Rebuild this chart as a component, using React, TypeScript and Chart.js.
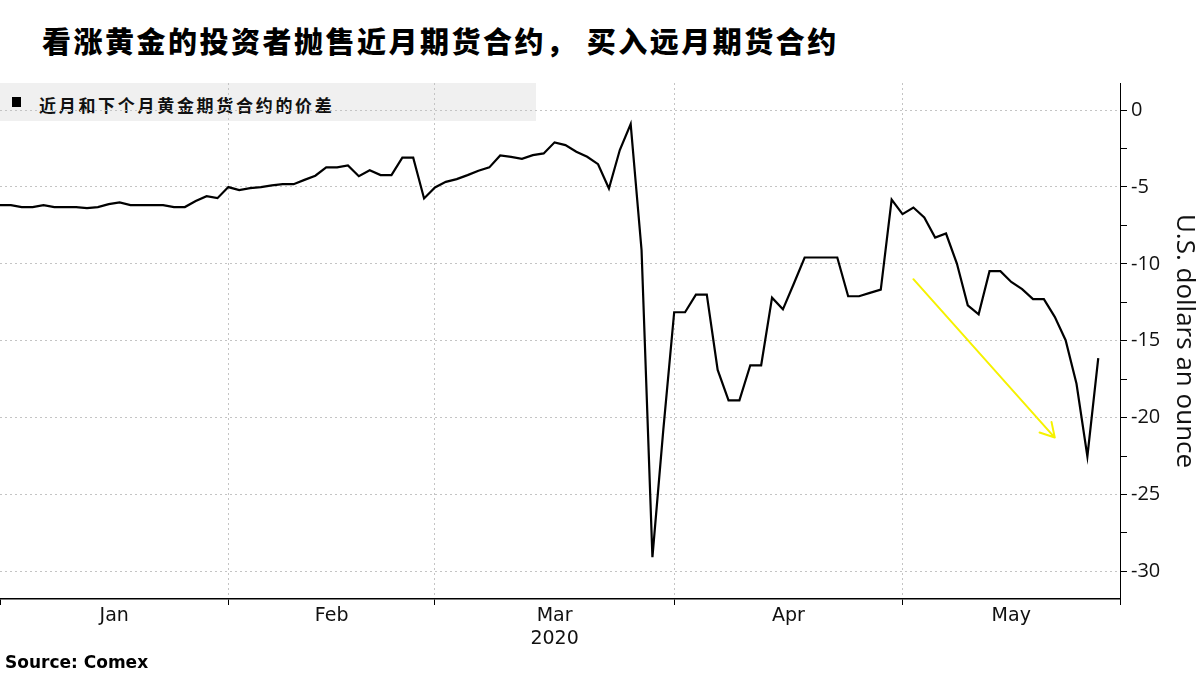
import React, { useEffect, useRef } from "react";
import { Chart, registerables } from "chart.js";

Chart.register(...registerables);

// ---------- text ----------
const TITLE = "看涨黄金的投资者抛售近月期货合约， 买入远月期货合约";
const SERIES_LABEL = "近月和下个月黄金期货合约的价差";
const SOURCE = "Source: Comex";
const Y_TITLE = "U.S. dollars an ounce";

// ---------- x axis (trading-day index) ----------
const monthNames = ["Jan", "Feb", "Mar", "Apr", "May"];
const yearLabel = "2020";
const yearUnderMonth = "Mar";
// trading-day index where each month starts
const monthStartIdx = [0, 21, 40, 62, 83];
const axisEndIdx = 103;

// ---------- y axis ----------
const yMajorTicks = [0, -5, -10, -15, -20, -25, -30];
const yMinorTicks = [-2.5, -7.5, -12.5, -17.5, -22.5, -27.5];
const yMin = -31.8;
const yMax = 1.76;

// ---------- series: spread, one value per trading day (Jan 2 .. late May 2020) ----------
const spread = [
  -6.18, -6.18, -6.31, -6.31, -6.18, -6.31, -6.31, -6.31, -6.38, -6.31,
  -6.12, -6.01, -6.18, -6.18, -6.18, -6.18, -6.31, -6.31, -5.92, -5.6,
  -5.73, -5.01, -5.21, -5.08, -5.01, -4.9, -4.82, -4.82, -4.54, -4.27,
  -3.73, -3.73, -3.6, -4.3, -3.91, -4.23, -4.23, -3.1, -3.1, -5.75,
  -5.03, -4.67, -4.49, -4.23, -3.95, -3.73, -2.95, -3.04, -3.17, -2.93,
  -2.82, -2.1, -2.28, -2.71, -3.04, -3.52, -5.1, -2.6, -0.91, -9.11,
  -29.08, -20.8, -13.15, -13.15, -12.0, -12.0, -16.9, -18.88, -18.88, -16.6,
  -16.6, -12.2, -12.96, -11.3, -9.59, -9.59, -9.59, -9.59, -12.11, -12.11,
  -11.89, -11.68, -5.82, -6.77, -6.34, -6.99, -8.29, -8.03, -9.98, -12.7,
  -13.28, -10.48, -10.48, -11.18, -11.65, -12.3, -12.3, -13.45, -14.97, -17.8,
  -22.53, -16.13,
];

// ---------- annotation arrow (data coordinates: [index, value]) ----------
const arrowFrom = [84, -11.0];
const arrowTo = [97, -21.3];

const monthMids = monthStartIdx.map((s, i) =>
  (s + (i + 1 < monthStartIdx.length ? monthStartIdx[i + 1] : axisEndIdx)) / 2
);
const xTickValues = [...monthStartIdx, axisEndIdx, ...monthMids].sort((a, b) => a - b);

const arrowPlugin = {
  id: "arrowAnnotation",
  afterDatasetsDraw(chart: any) {
    const { ctx, scales } = chart;
    const x1 = scales.x.getPixelForValue(arrowFrom[0]);
    const y1 = scales.y.getPixelForValue(arrowFrom[1]);
    const x2 = scales.x.getPixelForValue(arrowTo[0]);
    const y2 = scales.y.getPixelForValue(arrowTo[1]);
    const ang = Math.atan2(y2 - y1, x2 - x1);
    const L = 16;
    ctx.save();
    ctx.strokeStyle = "#f6f200";
    ctx.lineWidth = 2;
    ctx.lineCap = "round";
    ctx.beginPath();
    ctx.moveTo(x1, y1);
    ctx.lineTo(x2, y2);
    for (const d of [Math.PI / 6, -Math.PI / 6]) {
      ctx.moveTo(x2, y2);
      ctx.lineTo(x2 - L * Math.cos(ang - d), y2 - L * Math.sin(ang - d));
    }
    ctx.stroke();
    ctx.restore();
  },
};

export default function App() {
  const canvasRef = useRef<HTMLCanvasElement | null>(null);

  useEffect(() => {
    if (!canvasRef.current) return;
    const chart = new Chart(canvasRef.current, {
      type: "line",
      data: {
        datasets: [
          {
            label: SERIES_LABEL,
            data: spread.map((v, i) => ({ x: i, y: v })),
            borderColor: "#000",
            borderWidth: 2.2,
            pointRadius: 0,
            tension: 0,
            fill: false,
          },
        ],
      },
      options: {
        responsive: false,
        animation: false,
        layout: { padding: { top: 83, left: 0, right: 0, bottom: 0 } },
        plugins: { legend: { display: false }, tooltip: { enabled: false } },
        scales: {
          x: {
            type: "linear",
            min: 0,
            max: axisEndIdx,
            afterBuildTicks: (s: any) => {
              s.ticks = xTickValues.map((v) => ({ value: v }));
            },
            afterFit: (s: any) => {
              s.height = 76;
            },
            ticks: {
              autoSkip: false,
              maxRotation: 0,
              minRotation: 0,
              padding: 0,
              color: "#111",
              font: { family: "DejaVu Sans", size: 19 },
              callback: (value: any) => {
                const i = monthMids.indexOf(Number(value));
                if (i < 0) return "";
                return monthNames[i] === yearUnderMonth ? [monthNames[i], yearLabel] : monthNames[i];
              },
            },
            grid: {
              color: (c: any) => {
                const v = c.tick ? c.tick.value : null;
                return v !== null && monthStartIdx.includes(v) && v !== 0 ? "#c4c4c4" : "rgba(0,0,0,0)";
              },
              tickColor: (c: any) => {
                const v = c.tick ? c.tick.value : null;
                return v !== null && (monthStartIdx.includes(v) || v === axisEndIdx) ? "#000" : "rgba(0,0,0,0)";
              },
              tickLength: 6,
              lineWidth: 1,
            },
            border: { display: true, color: "#000", width: 1.5, dash: [2, 3] },
          },
          y: {
            type: "linear",
            position: "right",
            min: yMin,
            max: yMax,
            afterBuildTicks: (s: any) => {
              s.ticks = [...yMajorTicks, ...yMinorTicks].sort((a, b) => a - b).map((v) => ({ value: v }));
            },
            afterFit: (s: any) => {
              s.width = 80;
            },
            ticks: {
              padding: 4,
              color: "#111",
              font: { family: "Open Sans", size: 20 },
              callback: (value: any) => (yMajorTicks.includes(Number(value)) ? String(value) : ""),
            },
            grid: {
              color: (c: any) => {
                const v = c.tick ? c.tick.value : null;
                return v !== null && yMajorTicks.includes(v) ? "#c4c4c4" : "rgba(0,0,0,0)";
              },
              tickColor: "#000",
              tickLength: 7,
              lineWidth: 1,
            },
            border: { display: true, color: "#000", width: 1, dash: [2, 3] },
            title: {
              display: true,
              text: Y_TITLE,
              color: "#111",
              font: { family: "Open Sans", size: 26 },
              padding: 0,
            },
          },
        },
      },
      plugins: [arrowPlugin],
    });
    return () => chart.destroy();
  }, []);

  return (
    <div
      style={{
        position: "absolute",
        left: 0,
        top: 0,
        width: 1200,
        height: 675,
        background: "#fff",
        overflow: "hidden",
      }}
    >
      <div
        style={{
          position: "absolute",
          left: 42,
          top: 24,
          fontFamily: '"Noto Sans CJK SC", sans-serif',
          fontWeight: 900,
          fontSize: 29,
          letterSpacing: "2.5px",
          lineHeight: "32px",
          whiteSpace: "nowrap",
          color: "#000",
        }}
      >
        {TITLE}
      </div>
      <div
        style={{
          position: "absolute",
          left: 0,
          top: 83,
          width: 536,
          height: 38,
          background: "#f0f0f0",
        }}
      >
        <div
          style={{
            position: "absolute",
            left: 12,
            top: 14,
            width: 9,
            height: 10,
            background: "#000",
          }}
        />
        <div
          style={{
            position: "absolute",
            left: 39,
            top: 12,
            fontFamily: '"Noto Sans CJK SC", sans-serif',
            fontWeight: 700,
            fontSize: 17,
            letterSpacing: "2.7px",
            lineHeight: "20px",
            whiteSpace: "nowrap",
            color: "#111",
          }}
        >
          {SERIES_LABEL}
        </div>
      </div>
      <canvas
        ref={canvasRef}
        width={1200}
        height={675}
        style={{ position: "absolute", left: 0, top: 0, width: 1200, height: 675 }}
      />
      <div
        style={{
          position: "absolute",
          left: 5,
          top: 652,
          fontFamily: '"DejaVu Sans", sans-serif',
          fontWeight: 700,
          fontSize: 17,
          lineHeight: "20px",
          whiteSpace: "nowrap",
          color: "#000",
        }}
      >
        {SOURCE}
      </div>
    </div>
  );
}
